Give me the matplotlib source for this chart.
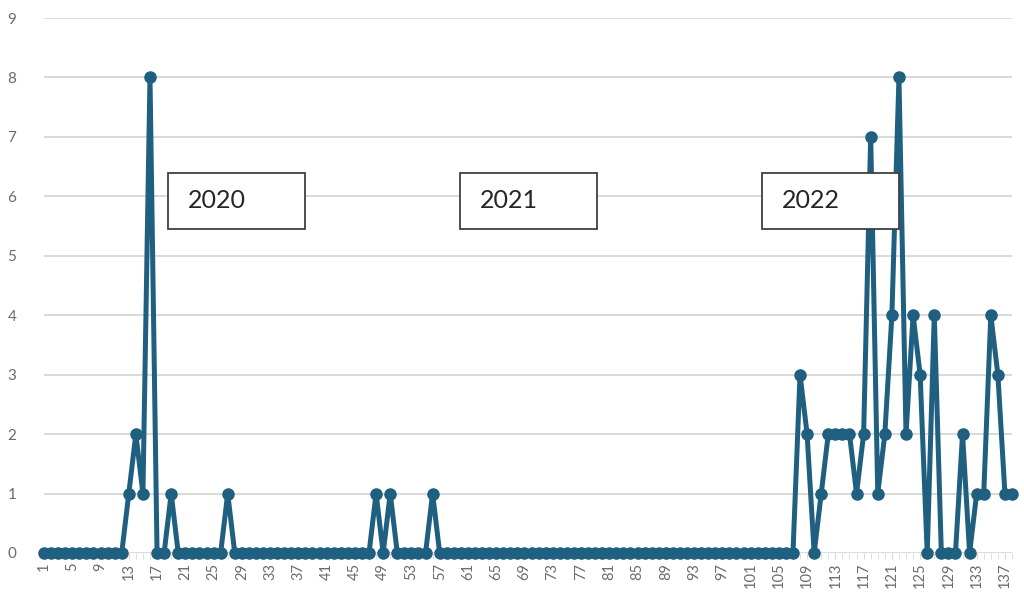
import numpy as np
import matplotlib.pyplot as plt
from matplotlib.patches import Rectangle

plt.rcParams['font.family'] = ['Lato', 'DejaVu Sans']

# 1..138 の値（読み取り）
counts = [0]*12 + [1, 2, 1, 8, 0, 0, 1] + [0]*7 + [1] + [0]*20 + [1, 0, 1] + [0]*5 + [1] \
    + [0]*51 + [3, 2, 0, 1, 2, 2, 2, 2, 1, 2, 7, 1, 2, 4, 8, 2, 4, 3, 0, 4, 0, 0, 0,
               2, 0, 1, 1, 4, 3, 1, 1]
idx = np.arange(1, len(counts) + 1)
tick_labels = [str(i) for i in range(1, 138, 4)]
year_labels = ["2020", "2021", "2022"]
box_left_px = [168, 460, 762]

line_color = "#1f5f7f"
fig = plt.figure(figsize=(10.24, 6.04), dpi=100)
ax = fig.add_axes([44/1024, 1 - 553/604, 968/1024, 535/604])

ax.plot(idx, counts, color=line_color, lw=3.6, marker="o", ms=8, zorder=3, clip_on=False)

ax.set_xlim(1, len(counts))
ax.set_ylim(0, 9)
ax.set_yticks(range(0, 10))
ax.set_xticks([int(t) for t in tick_labels])
ax.set_xticklabels(tick_labels, rotation=90)
ax.set_xticks(idx, minor=True)
ax.grid(axis="y", color="#d9d9d9", lw=1.4)
ax.set_axisbelow(True)
for s in ax.spines.values():
    s.set_visible(False)
ax.tick_params(axis="y", length=0, labelsize=11, labelcolor="#6b6b6b", pad=20)
ax.tick_params(axis="x", which="both", length=4, color="#d9d9d9", labelsize=10.5,
               labelcolor="#6b6b6b", pad=3)

# 年のテキストボックス
for lab, x0 in zip(year_labels, box_left_px):
    fig.patches.append(Rectangle((x0/1024, 1 - 229/604), 137/1024, 56/604,
                                 transform=fig.transFigure, facecolor="white",
                                 edgecolor="#404040", lw=1.3, zorder=5))
    fig.text((x0 + 20)/1024, 1 - 201/604, lab, fontsize=18, color="#262626",
             va="center", ha="left", zorder=6)

fig.savefig("out.png", dpi=100)
